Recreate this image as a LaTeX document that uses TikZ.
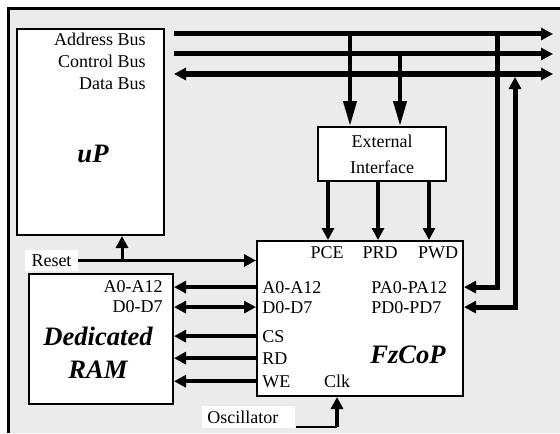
\documentclass[tikz,border=0pt]{standalone}
\usepackage{fontspec}
\setmainfont{Liberation Serif}
\usetikzlibrary{arrows.meta}
\tikzset{
	box/.style={draw, fill=white, line width=1pt, inner sep=0pt},
	lbl/.style={font=\fontsize{9}{13}\selectfont, inner sep=0pt},
	bigit/.style={font=\fontsize{13.3}{15}\selectfont\bfseries\itshape, inner sep=0pt},
	wlbl/.style={fill=white, font=\fontsize{9}{10}\selectfont},
	bus/.style={line width=2.5pt},
	sig/.style={line width=2pt},
	longtip/.style={-{Triangle[length=12.5pt,width=6.5pt]}}
}

\begin{document}
\begin{tikzpicture}[x=0.5pt, y=-0.5pt, >={Triangle[length=6pt,width=6pt]}]
			%%%%% START %%%%%
			\useasboundingbox (0,0) rectangle (560,433);
			\fill[black!8] (8,8) rectangle (560,433);
			\draw[line width=1.3pt] (8.5,433) -- (8.5,8.5) -- (560,8.5);
			
			% blocks
			\node[box, anchor=north west, minimum width=73.5pt, minimum height=103pt] (up) at (16,28) {};
			\node[box, lbl, align=center, anchor=north west, minimum width=64pt, minimum height=27pt] (ext) at (317,126) {External\\Interface};
			\node[box, anchor=north west, minimum width=103pt, minimum height=77.5pt] (fz) at (256,240) {};
			\node[box, anchor=north west, minimum width=72pt, minimum height=65pt] (ram) at (28,273) {};
			
			% uP
			\node[lbl, anchor=base east] (adr) at (146,46) {Address Bus};
			\node[lbl, anchor=base east] (ctl) at (146,68) {Control Bus};
			\node[lbl, anchor=base east] (dat) at (146,90) {Data Bus};
			\node[bigit, anchor=base] (upt) at (93,162) {uP};
			
			% FzCoP
			\node[lbl, anchor=base] (pce) at (327,258) {PCE};
			\node[lbl, anchor=base] (prd) at (380,258) {PRD};
			\node[lbl, anchor=base] (pwd) at (438,258) {PWD};
			\node[lbl, anchor=base west] (fa) at (262,293) {A0-A12};
			\node[lbl, anchor=base west] (fd) at (262,313) {D0-D7};
			\node[lbl, anchor=base west] (fcs) at (262,342) {CS};
			\node[lbl, anchor=base west] (frd) at (262,364) {RD};
			\node[lbl, anchor=base west] (fwe) at (262,387) {WE};
			\node[lbl, anchor=base] (fclk) at (337,387) {Clk};
			\node[lbl, anchor=base west] (fpa) at (371,293) {PA0-PA12};
			\node[lbl, anchor=base west] (fpd) at (371,313) {PD0-PD7};
			\node[bigit, anchor=base] (fzt) at (408,363) {FzCoP};
			
			% Dedicated RAM
			\node[lbl, anchor=base east] (ra) at (163,292) {A0-A12};
			\node[lbl, anchor=base east] (rd) at (163,312) {D0-D7};
			\node[bigit, anchor=base] (ded) at (98,345) {Dedicated};
			\node[bigit, anchor=base] (dram) at (98,378) {RAM};
			
			% system buses
			\coordinate (abl) at (174,34);
			\coordinate (abr) at (553,34);
			\coordinate (cbl) at (174,54);
			\coordinate (cbr) at (553,54);
			\coordinate (dbl) at (174,74);
			\coordinate (dbr) at (553,74);
			\draw[bus, ->] (abl) -- (abr);
			\draw[bus, ->] (cbl) -- (cbr);
			\draw[bus, <->] (dbl) -- (dbr);
			
			\coordinate (ta) at (350,34);
			\coordinate (tc) at (400,54);
			\draw[sig, longtip] (ta) -- (ta |- ext.north);
			\draw[sig, longtip] (tc) -- (tc |- ext.north);
			
			\foreach \dx in {11,61,112} {
				\coordinate (q) at ([xshift=\dx*0.5pt]ext.south west);
				\draw[sig, ->] (q) -- (q |- fz.north);
			}
			
			\coordinate (pat) at (497,32);
			\coordinate (pdt) at (515,77);
			\draw[bus, ->] (pat) |- (fz.east |- fpa);
			\draw[bus, <->] (fz.east |- fpd) -| (pdt);
			
			% FzCoP to RAM
			\draw[sig, ->] (fz.west |- fa) -- (ram.east |- fa);
			\draw[sig, <->] (fz.west |- fd) -- (ram.east |- fd);
			\foreach \s in {fcs,frd,fwe}
				\draw[sig, ->] (fz.west |- \s) -- (ram.east |- \s);
			
			% reset
			\node[wlbl, minimum width=26.5pt, minimum height=10.5pt, inner sep=0pt] (rst) at (51.5,260.5) {Reset};
			\draw[line width=1.5pt, ->] (rst.east) -- (rst.east -| fz.west);
			\coordinate (rj) at (122,260.5);
			\draw[line width=1.5pt, ->] (rj) -- (rj |- up.south);
			
			% oscillator
			\node[wlbl, anchor=north west, minimum height=11pt, inner xsep=2.5pt, inner ysep=0pt, text width=41.5pt] (osc) at (202,406) {Oscillator};
			\coordinate (oc) at ([yshift=1pt]osc.south east);
			\draw[line width=1pt] (oc) -- (oc -| fclk);
			\draw[sig, ->] (oc -| fclk) -- (fclk |- fz.south);
			%%%%% END %%%%%
\end{tikzpicture}
\end{document}
